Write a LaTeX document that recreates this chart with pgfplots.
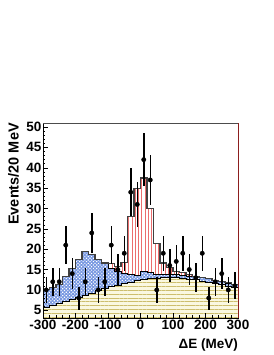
\documentclass[border=0pt]{standalone}
\usepackage{pgfplots}
\pgfplotsset{compat=1.18}
\usepackage{fontspec}
\setmainfont{Liberation Sans}
\usetikzlibrary{patterns,patterns.meta}
\definecolor{ybg}{RGB}{250,248,225}
\definecolor{yline}{RGB}{205,190,110}
\definecolor{bbg}{RGB}{120,152,225}
\definecolor{rline}{RGB}{235,110,110}
\definecolor{frred}{RGB}{140,30,30}
\begin{document}
\begin{tikzpicture}
\path[use as bounding box] (-43bp,-37bp) rectangle (231bp,318bp);
\begin{axis}[
  at={(0,0)}, anchor=south west,
  scale only axis, width=195bp, height=195bp,
  xmin=-300, xmax=300, ymin=3.1, ymax=51,
  axis on top,
  tick align=inside, xtick pos=bottom, ytick pos=left,
  xtick={-300,-200,...,300},
  xticklabels={-300,-200,-100,0,100,200,300},
  ytick={5,10,...,50},
  yticklabels={5,10,15,20,25,30,35,40,45,50},
  minor x tick num=4, minor y tick num=4,
  major tick length=5bp, minor tick length=2.5bp,
  tick style={black, line width=0.5bp},
  tick label style={font=\fontsize{13.5bp}{16bp}\selectfont\bfseries},
  yticklabel style={inner sep=1.5bp},
  xticklabel style={inner sep=2bp},
  axis line style={black, line width=0.6bp},
  xlabel={ΔE (MeV)},
  ylabel={Events/20 MeV},
  xlabel style={at={(rel axis cs:1,0)}, anchor=north east, yshift=-21bp, inner sep=0pt, font=\fontsize{13.5bp}{16bp}\selectfont\bfseries},
  ylabel style={at={(rel axis cs:-0.1795,1)}, anchor=north east, inner sep=0pt, font=\fontsize{14.5bp}{17bp}\selectfont\bfseries},
  after end axis/.code={
    \draw[gray!60!black, line width=0.8bp] (rel axis cs:0,1) -- (rel axis cs:1,1);
    \draw[frred, line width=0.8bp] (rel axis cs:1,0) -- (rel axis cs:1,1);
  },
]
% total (signal on top) - red vertical lines
\addplot[const plot, draw=none, fill=white, postaction={pattern={Lines[angle=90,distance=3.3bp,line width=1bp]}, pattern color=rline}] coordinates {
(-300,10.2) (-280,10.5) (-260,11.3) (-240,13.2) (-220,15.3) (-200,17.4) (-180,19.4) (-160,18.8) (-140,17.4) (-120,16.6)
(-100,16.4) (-80,15.8) (-60,16.8) (-40,28.0) (-20,35.0) (0,37.5) (20,30.0) (40,21.5) (60,16.6) (80,15.5)
(100,14.6) (120,14.2) (140,13.8) (160,13.4) (180,13.1) (200,12.8) (220,12.4) (240,12.1) (260,11.8) (280,11.4) (300,11.4)
} \closedcycle;
% blue + yellow
\addplot[const plot, draw=none, fill=bbg, postaction={pattern={Dots[distance=2.4bp,radius=0.8bp,angle=45]}, pattern color=white}] coordinates {
(-300,10.2) (-280,10.5) (-260,11.3) (-240,13.2) (-220,15.3) (-200,17.4) (-180,19.4) (-160,18.8) (-140,17.4) (-120,16.6)
(-100,15.2) (-80,14.5) (-60,14.0) (-40,13.7) (-20,13.5) (0,14.5) (20,14.2) (40,13.8) (60,13.8) (80,13.9)
(100,13.7) (120,13.6) (140,13.4) (160,13.2) (180,13.0) (200,12.7) (220,12.3) (240,12.0) (260,11.7) (280,11.3) (300,11.3)
} \closedcycle;
% yellow
\addplot[const plot, draw=none, fill=ybg, postaction={pattern={Lines[angle=0,distance=3.8bp,line width=0.9bp]}, pattern color=yline}] coordinates {
(-300,5.7) (-280,6.3) (-260,6.8) (-240,7.2) (-220,7.7) (-200,8.2) (-180,8.7) (-160,9.2) (-140,9.8) (-120,10.3)
(-100,10.8) (-80,11.2) (-60,11.6) (-40,12.0) (-20,12.4) (0,12.6) (20,12.8) (40,12.9) (60,13.0) (80,13.0)
(100,13.0) (120,12.9) (140,12.7) (160,12.5) (180,12.2) (200,11.9) (220,11.6) (240,11.3) (260,11.0) (280,10.7) (300,10.7)
} \closedcycle;
% outlines
\addplot[const plot, black, line width=0.5bp] coordinates {
(-300,5.7) (-280,6.3) (-260,6.8) (-240,7.2) (-220,7.7) (-200,8.2) (-180,8.7) (-160,9.2) (-140,9.8) (-120,10.3)
(-100,10.8) (-80,11.2) (-60,11.6) (-40,12.0) (-20,12.4) (0,12.6) (20,12.8) (40,12.9) (60,13.0) (80,13.0)
(100,13.0) (120,12.9) (140,12.7) (160,12.5) (180,12.2) (200,11.9) (220,11.6) (240,11.3) (260,11.0) (280,10.7) (300,10.7)
};
\addplot[const plot, black, line width=0.9bp] coordinates {
(-300,10.2) (-280,10.5) (-260,11.3) (-240,13.2) (-220,15.3) (-200,17.4) (-180,19.4) (-160,18.8) (-140,17.4) (-120,16.6)
(-100,15.2) (-80,14.5) (-60,14.0) (-40,13.7) (-20,13.5) (0,14.5) (20,14.2) (40,13.8) (60,13.8) (80,13.9)
(100,13.7) (120,13.6) (140,13.4) (160,13.2) (180,13.0) (200,12.7) (220,12.3) (240,12.0) (260,11.7) (280,11.3) (300,11.3)
};
\addplot[const plot, gray!50!black, line width=1.1bp] coordinates {
(-300,10.2) (-280,10.5) (-260,11.3) (-240,13.2) (-220,15.3) (-200,17.4) (-180,19.4) (-160,18.8) (-140,17.4) (-120,16.6)
(-100,16.4) (-80,15.8) (-60,16.8) (-40,28.0) (-20,35.0) (0,37.5) (20,30.0) (40,21.5) (60,16.6) (80,15.5)
(100,14.6) (120,14.2) (140,13.8) (160,13.4) (180,13.1) (200,12.8) (220,12.4) (240,12.1) (260,11.8) (280,11.4) (300,11.4)
};
% data
\addplot[only marks, mark=*, mark size=2.2bp, black,
  error bars/.cd, y dir=both, y explicit, error mark=none,
  error bar style={line width=1.5bp, black}] coordinates {
(-290,10) +- (0,3.16)
(-270,12) +- (0,3.46)
(-250,12) +- (0,3.46)
(-230,21) +- (0,4.58)
(-210,14) +- (0,3.74)
(-190,8) +- (0,2.83)
(-170,12) +- (0,3.46)
(-150,24) +- (0,4.90)
(-130,10) +- (0,3.16)
(-110,12) +- (0,3.46)
(-90,21) +- (0,4.58)
(-70,15) +- (0,3.87)
(-50,19) +- (0,4.36)
(-30,34) +- (0,5.83)
(-10,31) +- (0,5.57)
(10,42) +- (0,6.48)
(30,37) +- (0,6.08)
(50,10) +- (0,3.16)
(70,19) +- (0,4.36)
(90,16) +- (0,4.00)
(110,17) +- (0,4.12)
(130,19) +- (0,4.36)
(150,15) +- (0,3.87)
(170,13) +- (0,3.61)
(190,19) +- (0,4.36)
(210,8) +- (0,2.83)
(230,12) +- (0,3.46)
(250,14) +- (0,3.74)
(270,10) +- (0,3.16)
(290,11) +- (0,3.32)
};
\end{axis}
\end{tikzpicture}
\end{document}
